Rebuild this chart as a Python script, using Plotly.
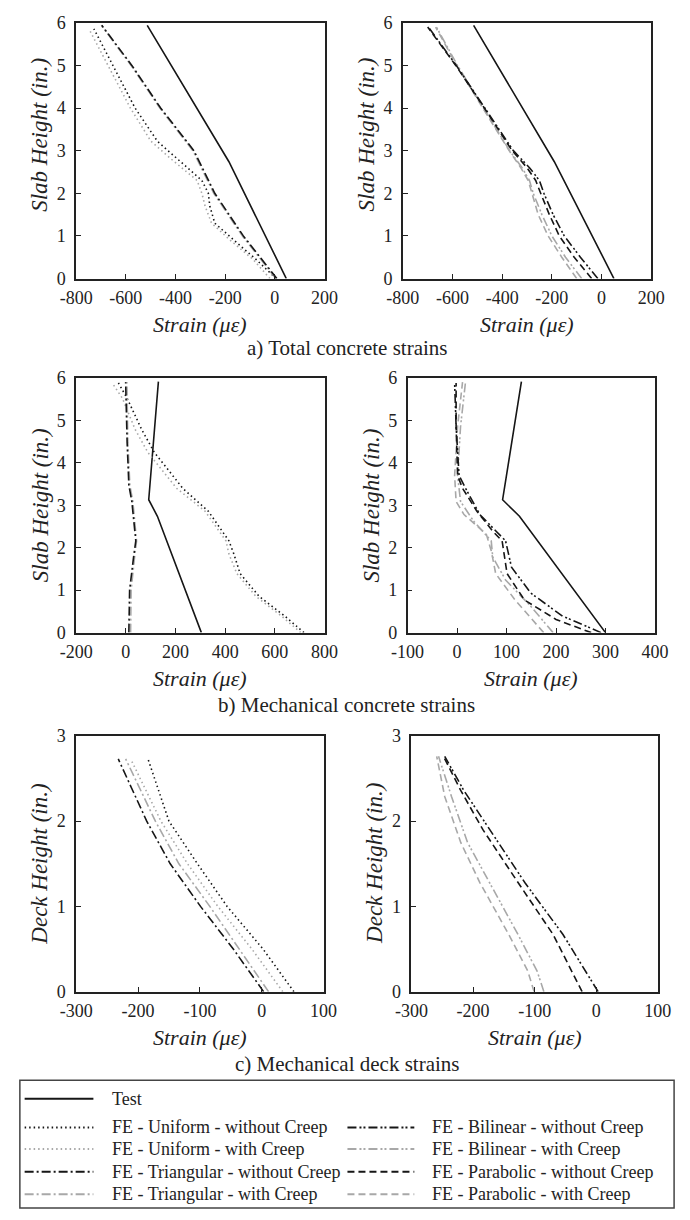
import plotly.graph_objects as go

# ---------------- DATA ----------------
# a) Total concrete strains - left
a_test_y = [0, 2.74, 5.94]
a_test_x = [46, -185, -514]
a_uni_y = [0, 0.45, 0.9, 1.3, 1.7, 2.0, 2.3, 2.76, 3.22, 4.0, 5.0, 5.86]
a_uni_nc_x = [5, -76, -165, -242, -262, -268, -294, -383, -473, -563, -653, -729]
a_uni_c_x = [-20, -88, -180, -255, -281, -294, -313, -409, -499, -582, -672, -749]
a_tri_y = [0, 1, 2, 3, 4, 5, 5.94]
a_tri_nc_x = [8, -127, -242, -326, -460, -576, -697]
a_tri_c_x = [4, -131, -246, -330, -463, -579, -699]
# a) Total concrete strains - right
a2_test_y = [0, 2.74, 5.94]
a2_test_x = [50, -190, -515]
a2_y = [0, 0.5, 1, 1.5, 2, 2.3, 2.6, 3, 4, 5, 5.9]
a2_bil_nc_x = [-15, -85, -150, -195, -232, -250, -290, -355, -470, -585, -697]
a2_par_nc_x = [-40, -110, -170, -210, -245, -265, -300, -360, -472, -587, -700]
a2_bil_c_x = [-80, -145, -200, -240, -275, -290, -320, -370, -475, -580, -665]
a2_par_c_x = [-100, -160, -215, -255, -280, -295, -325, -372, -478, -583, -668]

# b) Mechanical concrete strains - left
b_test_y = [0, 2.74, 3.13, 5.91]
b_test_x = [304, 127, 92, 131]
b_uni_y = [0, 0.39, 0.85, 1.39, 1.85, 2.16, 2.86, 3.4, 4.25, 4.79, 5.52, 5.88]
b_uni_nc_x = [717, 640, 537, 460, 435, 415, 332, 229, 114, 63, 5, -30]
b_uni_c_x = [704, 627, 524, 447, 415, 403, 319, 204, 88, 37, -14, -55]
b_tri_y = [0, 1.0, 1.78, 2.16, 3.09, 3.47, 4.48, 5.9]
b_tri_nc_x = [12, 15, 31, 40, 24, 12, 5, -1]
b_tri_c_x = [19, 21, 35, 43, 28, 16, 8, 4]
# b) Mechanical concrete strains - right
b2_test_y = [0, 2.74, 3.13, 5.91]
b2_test_x = [300, 126, 92, 130]
b2_bil_nc_y = [0, 0.39, 0.93, 1.54, 2.16, 2.39, 2.78, 3.4, 3.7, 4.86, 5.88]
b2_bil_nc_x = [291, 213, 149, 110, 98, 78, 46, 17, 4, -2, -5]
b2_par_nc_y = [0, 0.31, 0.77, 1.39, 2.16, 2.39, 2.86, 3.4, 3.7, 4.86, 5.88]
b2_par_nc_x = [271, 200, 136, 101, 91, 72, 40, 11, 1, -2, -2]
b2_bil_c_y = [0, 0.62, 1.24, 1.78, 2.16, 2.63, 3.09, 3.7, 4.86, 5.9]
b2_bil_c_x = [194, 149, 98, 72, 69, 33, 7, 1, 7, 17]
b2_par_c_y = [0, 0.77, 1.39, 1.93, 2.32, 2.78, 3.09, 3.7, 4.86, 5.9]
b2_par_c_x = [175, 117, 78, 69, 59, 14, -2, -5, 1, 11]

# c) Mechanical deck strains - left
c_y = [0, 0.5, 1.0, 1.5, 2.0, 2.73]
c_uni_nc_x = [52, 2, -56, -104, -150, -184]
c_uni_c_x = [34, -16, -71, -120, -163, -212]
c_tri_nc_x = [3, -46, -99, -148, -186, -232]
c_tri_c_x = [11, -37, -84, -134, -172, -220]
# c) Mechanical deck strains - right
c2_y = [0, 0.67, 1.28, 1.9, 2.36, 2.76]
c2_bil_nc_x = [3, -54, -116, -173, -215, -246]
c2_par_nc_x = [-23, -70, -127, -184, -220, -248]
c2_c_y = [0, 0.24, 0.67, 1.28, 1.75, 2.29, 2.76]
c2_bil_c_x = [-85, -96, -127, -173, -209, -235, -256]
c2_par_c_x = [-101, -111, -142, -189, -220, -246, -259]

# tick values
xt_a = [-800, -600, -400, -200, 0, 200]
xt_b1 = [-200, 0, 200, 400, 600, 800]
xt_b2 = [-100, 0, 100, 200, 300, 400]
xt_c = [-300, -200, -100, 0, 100]
yt_slab = [0, 1, 2, 3, 4, 5, 6]
yt_deck = [0, 1, 2, 3]

legend_names = ["Test",
                "FE - Uniform - without Creep", "FE - Uniform - with Creep",
                "FE - Triangular - without Creep", "FE - Triangular - with Creep",
                "FE - Bilinear - without Creep", "FE - Bilinear - with Creep",
                "FE - Parabolic - without Creep", "FE - Parabolic - with Creep"]
subtitles = ["a) Total concrete strains", "b) Mechanical concrete strains", "c) Mechanical deck strains"]

# ---------------- STYLE ----------------
W, H = 690, 1220
FONT = "Liberation Serif, Times New Roman, serif"
BLACK = "#161616"
GRAY = "#a8a8a8"
DOT = "1.5px,3px"
DASHDOT = "9px,3px,2px,3px"
DASHDOTDOT = "9px,3px,2px,2px,2px,3px"
DASH = "7px,4px"
STY = {
    "test": (BLACK, "solid", 1.6),
    "uni_nc": (BLACK, DOT, 1.6), "uni_c": (GRAY, DOT, 1.6),
    "tri_nc": (BLACK, DASHDOT, 1.6), "tri_c": (GRAY, DASHDOT, 1.6),
    "bil_nc": (BLACK, DASHDOTDOT, 1.6), "bil_c": (GRAY, DASHDOTDOT, 1.6),
    "par_nc": (BLACK, DASH, 1.6), "par_c": (GRAY, DASH, 1.6),
}

def px(x):
    return x / W

def py(y):
    return 1 - y / H

# panel boxes in pixels (left, right, top, bottom)
boxes = [(62, 322, 13, 273), (404, 664, 13, 273),
         (62, 322, 374, 633), (409, 668, 374, 633),
         (62, 321, 738, 998), (413, 671, 738, 998)]
xticks = [xt_a, xt_a, xt_b1, xt_b2, xt_c, xt_c]
yticks = [yt_slab, yt_slab, yt_slab, yt_slab, yt_deck, yt_deck]
ytitles = ["Slab Height (in.)"] * 4 + ["Deck Height (in.)"] * 2

fig = go.Figure()

series = [
    (1, "test", a_test_x, a_test_y), (1, "uni_c", a_uni_c_x, a_uni_y), (1, "uni_nc", a_uni_nc_x, a_uni_y),
    (1, "tri_c", a_tri_c_x, a_tri_y), (1, "tri_nc", a_tri_nc_x, a_tri_y),
    (2, "test", a2_test_x, a2_test_y), (2, "par_c", a2_par_c_x, a2_y), (2, "bil_c", a2_bil_c_x, a2_y),
    (2, "par_nc", a2_par_nc_x, a2_y), (2, "bil_nc", a2_bil_nc_x, a2_y),
    (3, "test", b_test_x, b_test_y), (3, "uni_c", b_uni_c_x, b_uni_y), (3, "uni_nc", b_uni_nc_x, b_uni_y),
    (3, "tri_c", b_tri_c_x, b_tri_y), (3, "tri_nc", b_tri_nc_x, b_tri_y),
    (4, "test", b2_test_x, b2_test_y), (4, "par_c", b2_par_c_x, b2_par_c_y), (4, "bil_c", b2_bil_c_x, b2_bil_c_y),
    (4, "par_nc", b2_par_nc_x, b2_par_nc_y), (4, "bil_nc", b2_bil_nc_x, b2_bil_nc_y),
    (5, "uni_c", c_uni_c_x, c_y), (5, "uni_nc", c_uni_nc_x, c_y),
    (5, "tri_c", c_tri_c_x, c_y), (5, "tri_nc", c_tri_nc_x, c_y),
    (6, "par_c", c2_par_c_x, c2_c_y), (6, "bil_c", c2_bil_c_x, c2_c_y),
    (6, "par_nc", c2_par_nc_x, c2_y), (6, "bil_nc", c2_bil_nc_x, c2_y),
]

for k, key, xs, ys in series:
    col, dash, w = STY[key]
    sfx = "" if k == 1 else str(k)
    fig.add_trace(go.Scatter(x=xs, y=ys, mode="lines", xaxis="x" + sfx, yaxis="y" + sfx,
                             line=dict(color=col, dash=dash, width=w), showlegend=False,
                             hoverinfo="skip"))

layout = dict(width=W, height=H, margin=dict(l=0, r=0, t=0, b=0),
              paper_bgcolor="white", plot_bgcolor="white", showlegend=False,
              font=dict(family=FONT, color="#222"))
annotations = []
for i, (l, r, t, b) in enumerate(boxes):
    k = i + 1
    sfx = "" if k == 1 else str(k)
    common = dict(showline=True, linecolor="#222", linewidth=1.5, mirror=True,
                  ticks="inside", ticklen=5, tickwidth=1.2, tickcolor="#222",
                  showgrid=False, zeroline=False, fixedrange=True, tickmode="array",
                  tickfont=dict(family=FONT, size=18, color="#222"))
    xt = xticks[i]
    yt = yticks[i]
    layout["xaxis" + sfx] = dict(domain=[px(l), px(r)], anchor="y" + sfx, range=[xt[0], xt[-1]],
                                 tickvals=xt, ticktext=[str(v) for v in xt],
                                 ticklabelstandoff=2, **common)
    layout["yaxis" + sfx] = dict(domain=[py(b), py(t)], anchor="x" + sfx, range=[yt[0], yt[-1]],
                                 tickvals=yt, ticktext=[str(v) for v in yt],
                                 ticklabelstandoff=5, **common)
    # x-axis title
    annotations.append(dict(text="<i>Strain (με)</i>", xref="paper", yref="paper",
                            x=px((l + r) / 2), y=py(b + 47), xanchor="center", yanchor="middle",
                            showarrow=False, font=dict(family=FONT, size=22, color="#222")))
    # y-axis title
    yc = (t + b) / 2 - (16 if k <= 2 else 0)
    annotations.append(dict(text="<i>" + ytitles[i] + "</i>", xref="paper", yref="paper",
                            x=px(l - 38), y=py(yc), xanchor="center", yanchor="middle", textangle=-90,
                            showarrow=False, font=dict(family=FONT, size=23, color="#222")))

for txt, yy in zip(subtitles, [344, 707, 1072]):
    annotations.append(dict(text=txt, xref="paper", yref="paper", x=0.5, y=py(yy),
                            xanchor="center", yanchor="middle", showarrow=False,
                            font=dict(family=FONT, size=21, color="#222")))

# ---------------- LEGEND (drawn) ----------------
shapes = [dict(type="rect", xref="paper", yref="paper", x0=px(3), x1=px(688), y0=py(1218), y1=py(1088),
               line=dict(color="#444", width=1.5), fillcolor="rgba(0,0,0,0)")]
leg_keys = ["test", "uni_nc", "uni_c", "tri_nc", "tri_c", "bil_nc", "bil_c", "par_nc", "par_c"]
leg_pos = [(8, 80, 97, 1107),
           (8, 80, 97, 1136), (8, 80, 97, 1158), (8, 80, 97, 1181), (8, 80, 97, 1204),
           (346, 416, 432, 1136), (346, 416, 432, 1158), (346, 416, 432, 1181), (346, 416, 432, 1204)]
for key, name, (sx0, sx1, tx, yy) in zip(leg_keys, legend_names, leg_pos):
    col, dash, w = STY[key]
    shapes.append(dict(type="line", xref="paper", yref="paper", x0=px(sx0), x1=px(sx1),
                       y0=py(yy), y1=py(yy), line=dict(color=col, dash=dash, width=2)))
    annotations.append(dict(text=name, xref="paper", yref="paper", x=px(tx), y=py(yy),
                            xanchor="left", yanchor="middle", showarrow=False,
                            font=dict(family=FONT, size=18, color="#222")))

layout["annotations"] = annotations
layout["shapes"] = shapes
fig.update_layout(**layout)
fig.write_html("out.html")
